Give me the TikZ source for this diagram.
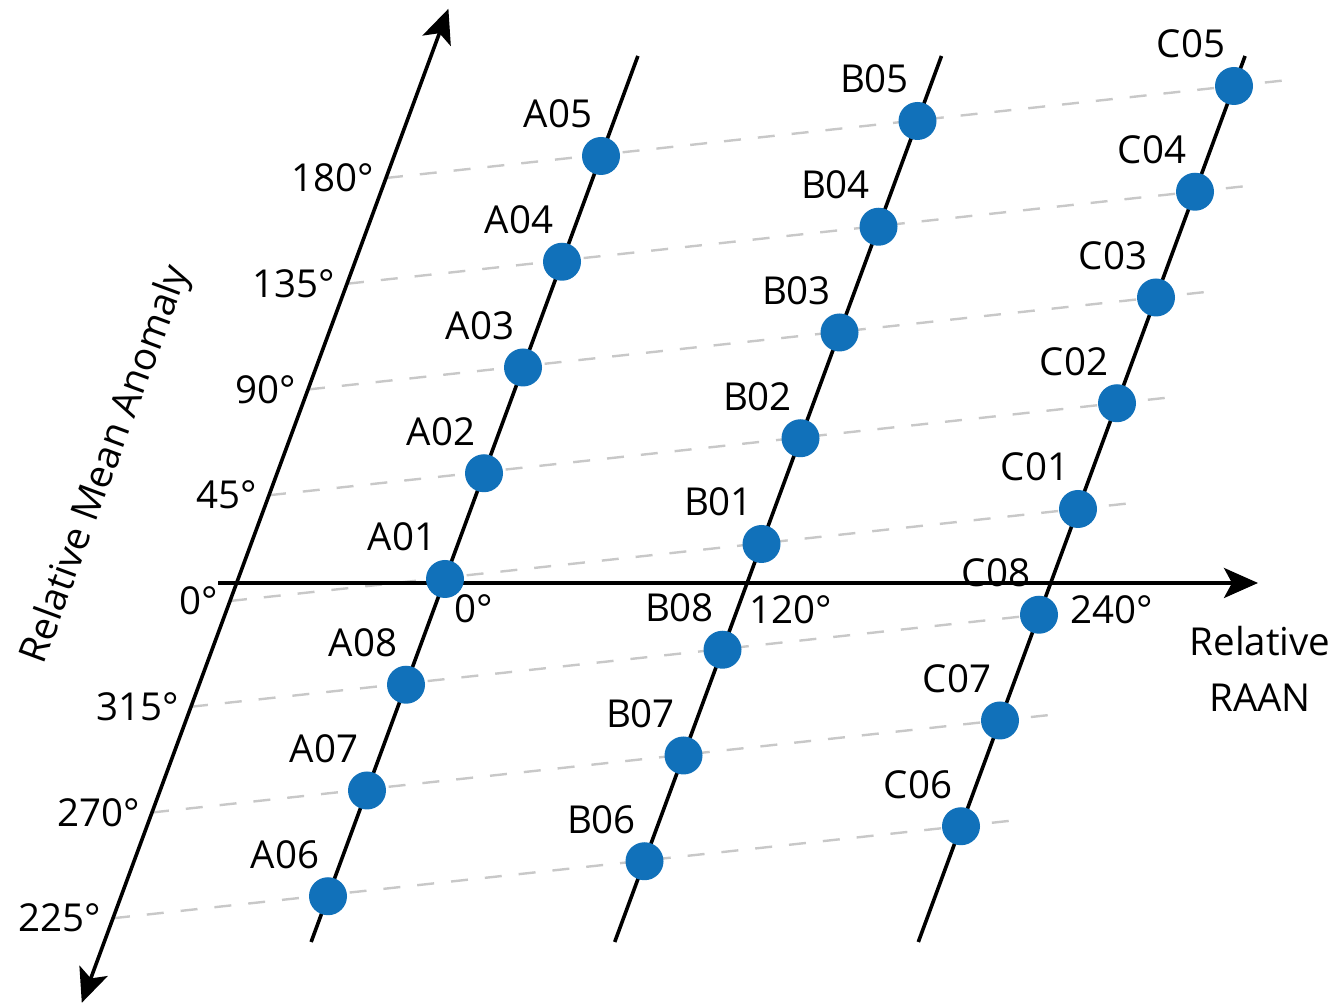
\documentclass[tikz,border=0pt]{standalone}
\usepackage{fontspec}
\setmainfont{Open Sans}
\usetikzlibrary{arrows.meta,calc,backgrounds}
\definecolor{satblue}{RGB}{17,113,186}
\definecolor{rowgray}{RGB}{200,200,200}

\begin{document}
\begin{tikzpicture}[x=0.5pt,y=0.5pt,>={Stealth[length=17pt,width=15pt,inset=4pt]},
 font=\fontsize{19.25}{28}\selectfont,
 sat/.style={circle,fill=satblue,minimum size=19pt,inner sep=0pt},
 axisline/.style={line width=1.8pt},
 plane/.style={line width=1.8pt},
 row/.style={line width=1.2pt,rowgray,dash pattern=on 8.5pt off 8.5pt},
 tick/.style={anchor=east,inner sep=0pt},
 lbl/.style={inner sep=0pt}]
\useasboundingbox (0,0) rectangle (1340,1005);
% axes
\coordinate (mlo) at (81.8,2.2);
\coordinate (mhi) at (448.4,996.2);
\coordinate (rlo) at (218,422);
\coordinate (rhi) at (1258,422);
% satellites, plane p and slot k
\foreach \p/\pl in {0/A,1/B,2/C}{
  \foreach \k/\n in {-3/06,-2/07,-1/08,0/01,1/02,2/03,3/04,4/05}{
    \node[sat] (\pl\n) at ({445+316.5*\p+39*\k},{426+35*\p+105.75*\k}) {};
    \node[lbl] (l\pl\n) at ([shift={(-43,42)}]\pl\n) {\pl\n};
  }
  \coordinate (bot\pl) at ({445+316.5*\p+0.3688*(63-426-35*\p)},63);
  \coordinate (top\pl) at ({445+316.5*\p+0.3688*(949-426-35*\p)},949);
}
% mean anomaly ticks
\foreach \k/\n/\d in {-3/06/225,-2/07/270,-1/08/315,0/01/0,1/02/45,2/03/90,3/04/135,4/05/180}{
  \coordinate (m\n) at ({230+39*\k},{404+105.75*\k});
  \node[tick] (t\n) at ([xshift=-6pt]m\n) {\d°};
}
\begin{scope}[on background layer]
  \foreach \n in {06,07,08,01,02,03,04,05}
    \draw[row] (m\n) -- ($(C\n)!-0.18!(B\n)$);
  \foreach \pl in {A,B,C}
    \draw[plane] (bot\pl) -- (top\pl);
  \draw[axisline,<->] (mlo) -- (mhi);
  \draw[axisline,->] (rlo) -- (rhi);
\end{scope}
\node[lbl] (r0) at (474,396) {0°};
\node[lbl] (r120) at (791,395) {120°};
\node[lbl,fill=white,inner sep=2pt] (r240) at (1112,395) {240°};
\node[lbl,align=center] (raan) at (1260,336) {Relative\\RAAN};
\node[lbl,rotate=69.76] (manom) at (107,540) {Relative Mean Anomaly};
\end{tikzpicture}
\end{document}
